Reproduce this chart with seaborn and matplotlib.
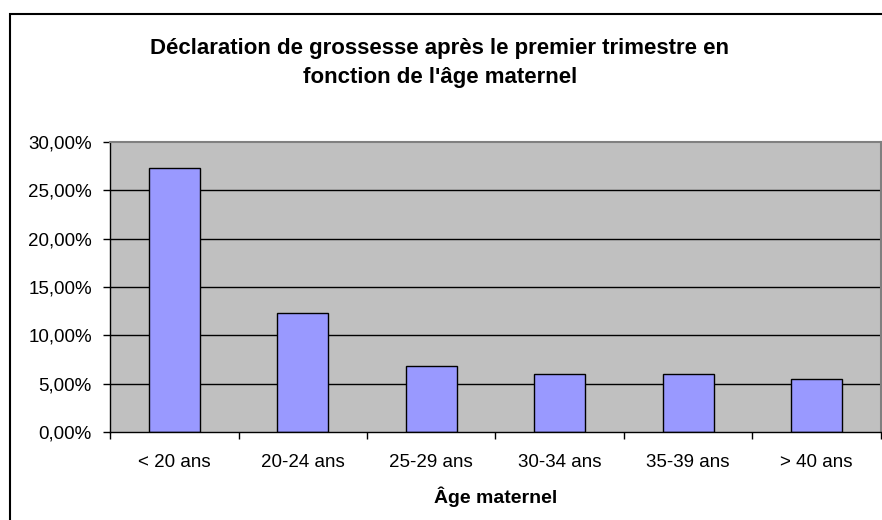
import matplotlib
matplotlib.use("Agg")
import matplotlib.pyplot as plt
import seaborn as sns
import pandas as pd
from matplotlib.ticker import FuncFormatter, FixedLocator

# Données
categories = ["< 20 ans", "20-24 ans", "25-29 ans", "30-34 ans", "35-39 ans", "> 40 ans"]
valeurs = [0.273, 0.123, 0.068, 0.060, 0.060, 0.0545]
y_ticks = [0, 0.05, 0.10, 0.15, 0.20, 0.25, 0.30]

df = pd.DataFrame({"age": categories, "pct": valeurs})

sns.set_style("white")
plt.rcParams["font.family"] = ["Liberation Sans", "DejaVu Sans"]
plt.rcParams["text.color"] = "black"
plt.rcParams["axes.labelcolor"] = "black"
plt.rcParams["xtick.color"] = "black"
plt.rcParams["ytick.color"] = "black"

fig = plt.figure(figsize=(8.82, 5.2), dpi=100)
ax = fig.add_axes([110 / 882, 88 / 520, 771 / 882, 290 / 520])
ax.set_facecolor("#C0C0C0")

# grille horizontale noire
for y in y_ticks[1:-1]:
    ax.axhline(y, color="black", lw=1, zorder=0.5)

sns.barplot(data=df, x="age", y="pct", color="#9999FF", edgecolor="black",
            linewidth=1, width=0.4, saturation=1, ax=ax, zorder=2)

ax.set_ylim(0, 0.30)
ax.set_xlim(-0.5, 5.5)
ax.set_yticks(y_ticks)
ax.yaxis.set_major_formatter(FuncFormatter(lambda v, p: f"{v * 100:.2f}%".replace(".", ",")))
ax.xaxis.set_minor_locator(FixedLocator([i - 0.5 for i in range(len(categories) + 1)]))
ax.tick_params(axis="x", which="both", bottom=True)
ax.tick_params(axis="x", which="major", length=0, pad=16, labelsize=13.5)
ax.tick_params(axis="x", which="minor", length=5, width=1, color="black", direction="out")
ax.tick_params(axis="y", left=True, length=5, width=1, color="black", direction="out", pad=8, labelsize=13.5)

for s in ["left", "bottom"]:
    ax.spines[s].set_color("black")
    ax.spines[s].set_linewidth(1)
for s in ["top", "right"]:
    ax.spines[s].set_color("#808080")
    ax.spines[s].set_linewidth(1.5)

ax.set_ylabel("")
ax.set_xlabel("Âge maternel", fontsize=14, fontweight="bold", labelpad=11)

fig.text(440 / 882, 1 - 63 / 520,
         "Déclaration de grossesse après le premier trimestre en\nfonction de l'âge maternel",
         ha="center", va="center", multialignment="center",
         fontsize=16, fontweight="bold", linespacing=1.45)

# cadre du graphique
fig.add_artist(plt.Rectangle((10 / 882, -1), 2, 1 + 506 / 520, transform=fig.transFigure,
                             fill=False, edgecolor="black", linewidth=1.5))

fig.savefig("out.png", dpi=100, facecolor="white")
